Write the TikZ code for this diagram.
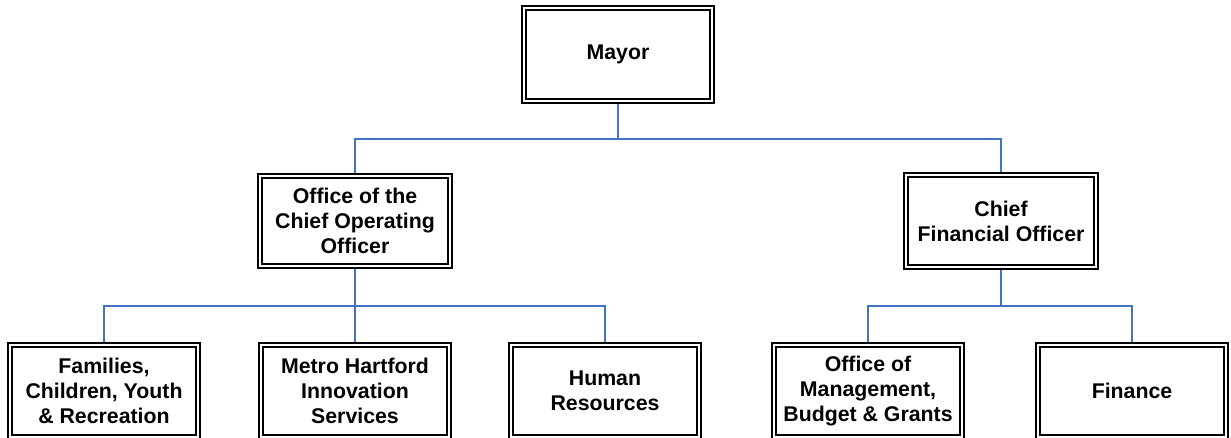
\documentclass[tikz,border=0pt]{standalone}
\usepackage{fontspec}
\setmainfont{Liberation Sans}
\definecolor{conn}{HTML}{4472C4}
\begin{document}
\begin{tikzpicture}[x=1pt,y=-1pt,
  box/.style={draw, line width=1.3pt, inner sep=0pt, align=center,
    minimum width=192pt, minimum height=96pt,
    font=\fontsize{21.3}{25}\selectfont\bfseries},
  inner/.style={line width=2.2pt},
  link/.style={draw=conn, line width=1.6pt}]
\useasboundingbox (0,0) rectangle (1231,438);
\clip (0,0) rectangle (1231,438);
\node[box, minimum height=97pt] (mayor) at (618,54.5) {Mayor};
\node[box, minimum width=194pt, minimum height=94pt] (coo) at (355,221) {Office of the\\Chief Operating\\Officer};
\node[box, minimum width=194pt] (cfo) at (1001,221) {Chief\\Financial Officer};
\node[box] (fam) at (104,391) {Families,\\Children, Youth\\\& Recreation};
\node[box] (metro) at (355,391) {Metro Hartford\\Innovation\\Services};
\node[box] (hr) at (605,391) {Human\\Resources};
\node[box] (omb) at (868,391) {Office of\\Management,\\Budget \& Grants};
\node[box] (fin) at (1132,391) {Finance};
\foreach \n in {mayor,coo,cfo,fam,metro,hr,omb,fin}
  \draw[inner] ([xshift=5pt,yshift=-5pt]\n.north west) rectangle ([xshift=-5pt,yshift=5pt]\n.south east);
\coordinate (j1) at (618,139);
\coordinate (j2) at (355,306);
\coordinate (j3) at (1001,306);
\draw[link] (mayor.south) -- (j1);
\draw[link] (coo.north) |- (j1) -| (cfo.north);
\draw[link] (coo.south) -- (j2);
\draw[link] (fam.north) |- (j2) -| (hr.north);
\draw[link] (j2) -- (metro.north);
\draw[link] (cfo.south) -- (j3);
\draw[link] (omb.north) |- (j3) -| (fin.north);
\end{tikzpicture}
\end{document}
